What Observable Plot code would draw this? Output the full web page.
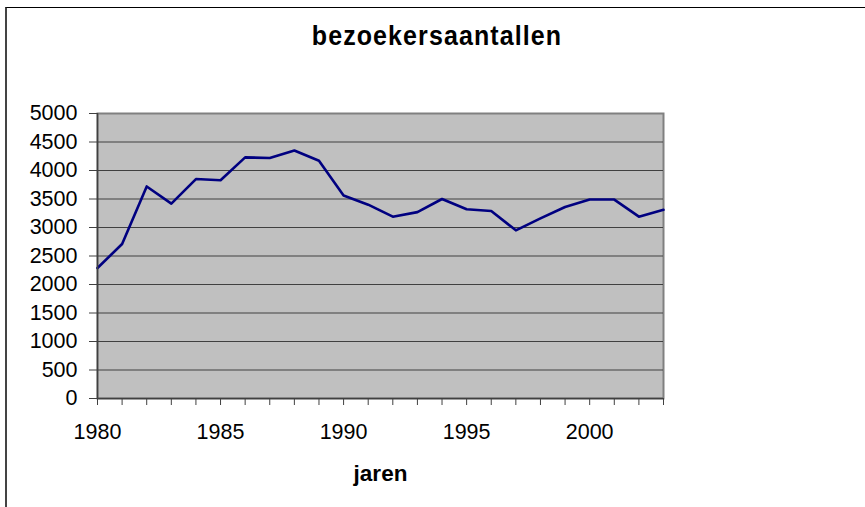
<!DOCTYPE html>
<html>
<head>
<meta charset="utf-8">
<script src="https://cdn.jsdelivr.net/npm/d3@7"></script>
<script src="https://cdn.jsdelivr.net/npm/@observablehq/plot@0.6"></script>
<style>
  html, body { margin: 0; padding: 0; background: #fff; }
  #wrap { position: relative; width: 865px; height: 507px; overflow: hidden; font-family: "Liberation Sans", Arial, sans-serif; }
  #border { position: absolute; left: 5px; top: 7px; width: 900px; height: 600px; border-top: 1px solid #000; border-left: 2px solid #444; box-sizing: border-box; }
  #title { position: absolute; left: 0; width: 874px; top: 21px; text-align: center; font-weight: bold; font-size: 25px; letter-spacing: 1.1px; color: #000; transform: scaleY(1.08); }
  svg { position: absolute; left: 0; top: 0; }
</style>
</head>
<body>
<div id="wrap">
  <div id="border"></div>
  <div id="title">bezoekersaantallen</div>
</div>
<script>
const years = [1980,1981,1982,1983,1984,1985,1986,1987,1988,1989,1990,1991,1992,1993,1994,1995,1996,1997,1998,1999,2000,2001,2002,2003];
const visitors = [2290,2710,3720,3420,3850,3830,4230,4220,4350,4170,3560,3400,3190,3270,3500,3320,3290,2950,3160,3360,3490,3490,3190,3310];
const yTicks = [0,500,1000,1500,2000,2500,3000,3500,4000,4500,5000];
const xLabelYears = [1980,1985,1990,1995,2000];
const titleText = "bezoekersaantallen";
const xLabel = "jaren";

const data = years.map((y, i) => ({year: y, value: visitors[i]}));

const chart = Plot.plot({
  width: 865,
  height: 507,
  marginLeft: 97,
  marginRight: 202,
  marginTop: 113,
  marginBottom: 109,
  style: {fontFamily: "'Liberation Sans', Arial, sans-serif", background: "transparent", overflow: "visible"},
  x: {domain: [years[0], years[years.length - 1]], label: null},
  y: {domain: [yTicks[0], yTicks[yTicks.length - 1]], label: null},
  marks: [
    Plot.frame({fill: "#C0C0C0", stroke: "#808080", strokeWidth: 2}),
    Plot.gridY(yTicks.slice(1, -1), {stroke: "#404040", strokeOpacity: 1, strokeWidth: 1}),
    Plot.line(data, {x: "year", y: "value", stroke: "#000080", strokeWidth: 2.6, strokeLinejoin: "round"}),
    Plot.ruleX([years[0]], {stroke: "#404040", strokeWidth: 1.5}),
    Plot.ruleY([yTicks[0]], {stroke: "#404040", strokeWidth: 1.5}),
    Plot.axisY(yTicks, {tickSize: 8, tickPadding: 12, fontSize: 21.5, fill: "#000", stroke: "#404040", tickFormat: d => String(d), label: null}),
    Plot.axisX(years, {tickSize: 7, tickFormat: () => "", stroke: "#404040", label: null}),
    Plot.axisX(xLabelYears, {tickSize: 0, tickPadding: 25, fontSize: 21.5, fill: "#000", tickFormat: d => String(d), label: null}),
    Plot.text([xLabel], {frameAnchor: "bottom", dy: 82, fontSize: 22.5, fontWeight: "bold", fill: "#000", text: d => d})
  ]
});
document.getElementById("wrap").appendChild(chart);
document.getElementById("title").textContent = titleText;
</script>
</body>
</html>
